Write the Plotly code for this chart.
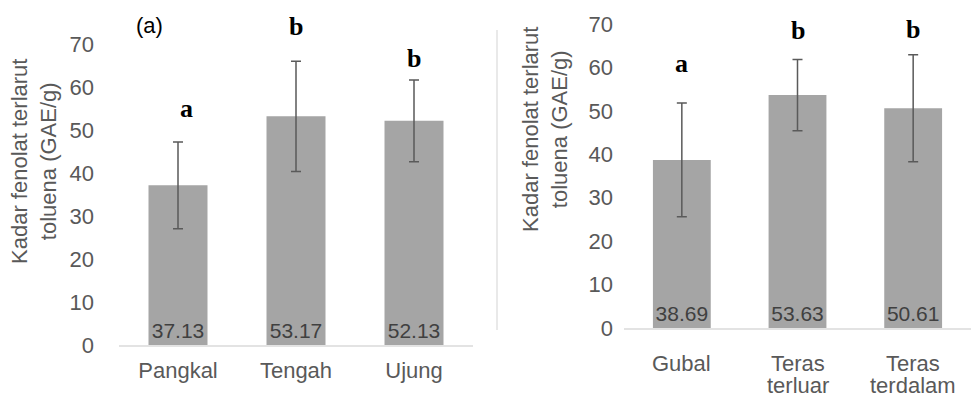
import plotly.graph_objects as go

# Panel (a): position along the stem
cat_a = ["Pangkal", "Tengah", "Ujung"]
val_a = [37.13, 53.17, 52.13]
err_a = [10.1, 12.8, 9.5]
sig_a = ["a", "b", "b"]
sig_a_y = [54.9, 74.0, 66.7]

# Panel (b): radial position
cat_b = ["Gubal", "Teras<br>terluar", "Teras<br>terdalam"]
val_b = [38.69, 53.63, 50.61]
err_b = [13.1, 8.2, 12.3]
sig_b = ["a", "b", "b"]
sig_b_y = [60.8, 68.6, 68.8]

y_ticks = [0, 10, 20, 30, 40, 50, 60, 70]
y_title = "Kadar fenolat terlarut<br>toluena (GAE/g)"

W, H = 971, 396
BAR = "#a5a5a5"
TXT = "#595959"
FONT = "Liberation Sans, Arial, sans-serif"
SERIF = "Liberation Serif, Times New Roman, serif"

# vertical extents of the two plot areas (paper fractions)
dom_a = [(H - 345) / H, (H - 44) / H]
dom_b = [(H - 328) / H, (H - 24) / H]
Y_MAX = 70


def to_paper(v, dom):
    return dom[0] + (dom[1] - dom[0]) * v / Y_MAX


fig = go.Figure()

for cats, vals, errs, xa, ya in [(cat_a, val_a, err_a, "x", "y"),
                                 (cat_b, val_b, err_b, "x2", "y2")]:
    fig.add_trace(go.Bar(
        x=cats, y=vals, xaxis=xa, yaxis=ya,
        marker=dict(color=BAR, line=dict(width=0)),
        error_y=dict(type="data", array=errs, visible=True,
                     color="#5a5a5a", thickness=1.5, width=5),
        text=[f"{v:.2f}" for v in vals],
        textposition="inside", insidetextanchor="start",
        textfont=dict(family=FONT, size=21, color="#404040"),
        textangle=0, cliponaxis=False, showlegend=False,
    ))

axis_common = dict(showgrid=False, zeroline=False, fixedrange=True,
                   automargin=False)

fig.update_layout(
    width=W, height=H,
    margin=dict(l=0, r=0, t=0, b=0),
    paper_bgcolor="white", plot_bgcolor="white",
    bargap=0.5,
    font=dict(family=FONT, color=TXT),
    uniformtext=dict(minsize=21, mode="show"),
    xaxis=dict(domain=[119 / W, 473 / W], anchor="y",
               showline=True, linecolor="#e3e3e3", linewidth=1.5,
               ticks="", tickfont=dict(size=22, color=TXT),
               ticklabelstandoff=5, **axis_common),
    yaxis=dict(domain=dom_a, anchor="x",
               range=[0, Y_MAX], tickvals=y_ticks, showline=False,
               ticks="", tickfont=dict(size=22, color=TXT),
               ticklabelstandoff=24, **axis_common),
    # category names of the right panel are set as tighter-spaced
    # annotations below
    xaxis2=dict(domain=[624 / W, 1.0], anchor="y2",
                showline=True, linecolor="#e3e3e3", linewidth=1.5,
                ticks="", showticklabels=False, **axis_common),
    yaxis2=dict(domain=dom_b, anchor="x2",
                range=[0, Y_MAX], tickvals=y_ticks, showline=False,
                ticks="", tickfont=dict(size=22, color=TXT),
                ticklabelstandoff=10, **axis_common),
)

annotations = []
# significance letters
for cats, letters, ys, xr, dom in [(cat_a, sig_a, sig_a_y, "x", dom_a),
                                   (cat_b, sig_b, sig_b_y, "x2", dom_b)]:
    for c, s, yy in zip(cats, letters, ys):
        annotations.append(dict(
            x=c, y=to_paper(yy, dom), xref=xr, yref="paper",
            text=f"<b>{s}</b>", showarrow=False,
            xshift=8 if (s == "a" and xr == "x") else 0,
            xanchor="center", yanchor="middle",
            font=dict(family=SERIF, size=26, color="black")))

# right-panel category labels, one annotation per text line
for c in cat_b:
    for i, line in enumerate(c.split("<br>")):
        annotations.append(dict(
            x=c, y=dom_b[0], xref="x2", yref="paper",
            text=line, showarrow=False,
            xanchor="center", yanchor="middle", yshift=-(35 + 22 * i),
            font=dict(family=FONT, size=22, color=TXT)))

# axis titles
for xc, yc in [(34, 162), (545, 130)]:
    annotations.append(dict(
        x=xc / W, y=(H - yc) / H, xref="paper", yref="paper",
        text=y_title, textangle=-90, showarrow=False,
        xanchor="center", yanchor="middle",
        font=dict(family=FONT, size=22, color=TXT)))

# panel label
annotations.append(dict(
    x=134 / W, y=(H - 25) / H, xref="paper", yref="paper",
    text="(a)", showarrow=False, xanchor="left", yanchor="middle",
    font=dict(family=FONT, size=22, color="black")))

fig.update_layout(annotations=annotations)

# faint divider between the two panels
fig.add_shape(type="line", xref="paper", yref="paper",
              x0=497 / W, x1=497 / W, y0=(H - 330) / H, y1=(H - 30) / H,
              line=dict(color="#e2e2e2", width=1.5))

fig.write_html("out.html")
